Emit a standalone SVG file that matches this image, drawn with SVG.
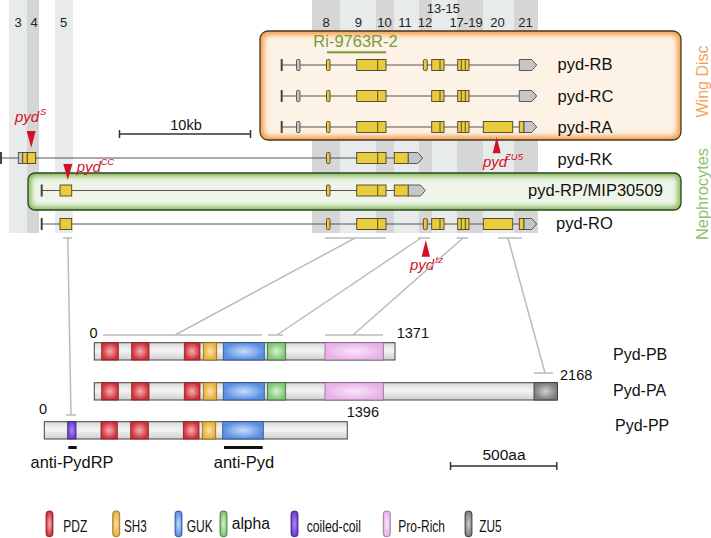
<svg xmlns="http://www.w3.org/2000/svg" width="711" height="538" viewBox="0 0 711 538">
<defs>
<style>
text{font-family:"Liberation Sans",Arial,sans-serif;}
.bl{fill:#e7ebeb}.bd{fill:#d6d6d6}
.col{font-size:13px;fill:#222;text-anchor:middle}
.gl{stroke:#555;stroke-width:1;fill:none}
.ex{fill:#e9cc3c;stroke:#4a4030;stroke-width:0.9}
.eg{fill:#c6c6c6;stroke:#4a4a4a;stroke-width:0.9}
.dv{stroke:#4a4030;stroke-width:0.9}
.tk{fill:#444}
.lab{font-size:16.5px;fill:#111}
.red{fill:#d3102a}
.rt{font-style:italic;font-size:15px;fill:#d3102a}
.sup{font-style:italic;font-size:9.5px;fill:#d3102a}
.con{stroke:#bcbcbc;stroke-width:1.5;fill:none}
.bar{fill:url(#gBar);stroke:#444;stroke-width:1}
.num{font-size:14.5px;fill:#111}
.pl{font-size:16px;fill:#111}
.lg{font-size:16px;fill:#111}
.sc{stroke:#333;stroke-width:1.5;fill:none}
.pdz{fill:url(#gPdz);stroke:#8a1a20;stroke-width:0.8}
.sh3{fill:url(#gSh3);stroke:#8a6a20;stroke-width:0.8}
.guk{fill:url(#gGuk);stroke:#2a4a8a;stroke-width:0.8}
.alp{fill:url(#gAlp);stroke:#3a6a30;stroke-width:0.8}
.cc{fill:url(#gCc);stroke:#3a2070;stroke-width:0.8}
.pro{fill:url(#gPro);stroke:#8a6a8a;stroke-width:0.8}
.zu5{fill:url(#gZu5);stroke:#333;stroke-width:0.8}
</style>
<linearGradient id="gBar" x1="0" y1="0" x2="0" y2="1">
<stop offset="0" stop-color="#d8d8d8"/><stop offset="0.45" stop-color="#f4f4f4"/><stop offset="1" stop-color="#d0d0d0"/>
</linearGradient>
<radialGradient id="gPdz"><stop offset="0" stop-color="#f6b0b4"/><stop offset="1" stop-color="#cc3038"/></radialGradient>
<radialGradient id="gSh3"><stop offset="0" stop-color="#fbe2a8"/><stop offset="1" stop-color="#e8ae3c"/></radialGradient>
<radialGradient id="gGuk"><stop offset="0" stop-color="#c6dcfc"/><stop offset="1" stop-color="#5a8ee2"/></radialGradient>
<radialGradient id="gAlp"><stop offset="0" stop-color="#d8f2d0"/><stop offset="1" stop-color="#80c478"/></radialGradient>
<radialGradient id="gCc"><stop offset="0" stop-color="#a88cf2"/><stop offset="1" stop-color="#6a3cd0"/></radialGradient>
<radialGradient id="gPro"><stop offset="0" stop-color="#fbe6fb"/><stop offset="1" stop-color="#e8b2e8"/></radialGradient>
<radialGradient id="gZu5"><stop offset="0" stop-color="#d0d0d0"/><stop offset="1" stop-color="#7c7c7c"/></radialGradient>
<filter id="soft" x="-5%" y="-20%" width="110%" height="140%"><feGaussianBlur stdDeviation="2.5"/></filter>
</defs>

<g id="bands">
<rect class="bl" x="9" y="0" width="18" height="233"/>
<rect class="bd" x="27" y="0" width="12" height="233"/>
<rect class="bl" x="55" y="0" width="18" height="233"/>
<rect class="bd" x="312" y="0" width="28" height="233"/>
<rect class="bl" x="340" y="0" width="36" height="233"/>
<rect class="bd" x="376" y="0" width="18" height="233"/>
<rect class="bl" x="394" y="0" width="25" height="233"/>
<rect class="bd" x="419" y="0" width="13" height="233"/>
<rect class="bl" x="432" y="0" width="25" height="233"/>
<rect class="bd" x="457" y="0" width="26" height="233"/>
<rect class="bl" x="483" y="0" width="31" height="233"/>
<rect class="bd" x="514" y="0" width="24" height="233"/>
</g>
<g id="column-labels">
<text class="col" x="18" y="27">3</text>
<text class="col" x="34" y="27">4</text>
<text class="col" x="63.5" y="27">5</text>
<text class="col" x="326" y="27">8</text>
<text class="col" x="358.3" y="27">9</text>
<text class="col" x="384.5" y="27">10</text>
<text class="col" x="405" y="27">11</text>
<text class="col" x="425" y="27">12</text>
<text class="col" x="443.3" y="12.7">13-15</text>
<text class="col" x="466" y="27">17-19</text>
<text class="col" x="497.5" y="27">20</text>
<text class="col" x="525.5" y="27">21</text>
</g>

<g id="wing-disc-box">
<rect x="260" y="31" width="421" height="109" rx="8" fill="#f3a24a"/>
<rect x="264" y="35" width="413" height="101" rx="5" fill="#fdf2e6" filter="url(#soft)"/>
<rect x="260" y="31" width="421" height="109" rx="8" fill="none" stroke="#4a3626" stroke-width="1.3"/>
</g>
<g id="nephrocyte-box">
<rect x="28" y="173" width="653" height="37" rx="7" fill="#86bb5c"/>
<rect x="31.5" y="176.5" width="646" height="30" rx="4" fill="#eef5e8" filter="url(#soft)"/>
<rect x="28" y="173" width="653" height="37" rx="7" fill="none" stroke="#2e4620" stroke-width="1.3"/>
</g>

<g id="ri-label">
<text x="355.5" y="47" font-size="16.5" fill="#7a9a3a" text-anchor="middle">Ri-9763R-2</text>
<rect x="327" y="51.3" width="59" height="2" fill="#7a9a3a"/>
</g>

<g id="pyd-RB">
<path class="gl" d="M281.7 65H519.3"/>
<rect class="tk" x="280.7" y="59" width="2" height="12"/>
<rect class="eg" x="296.5" y="59.5" width="3.5" height="11" rx="1"/>
<rect class="ex" x="326.5" y="59.5" width="3.5" height="11" rx="1"/>
<rect class="ex" x="356.7" y="59.5" width="29.3" height="11"/><path class="dv" d="M377.7 59.5V70.5"/>
<rect class="ex" x="423.3" y="59.5" width="4" height="11" rx="1.5"/>
<rect class="ex" x="431.7" y="59.5" width="12.3" height="11"/><path class="dv" d="M440 59.5V70.5"/>
<rect class="ex" x="457.7" y="59.5" width="11.3" height="11"/><path class="dv" d="M461.3 59.5V70.5M465.3 59.5V70.5"/>
<path class="eg" d="M519.3 59.5H531.7L536.7 65L531.7 70.5H519.3Z"/>
<text class="lab" x="557.5" y="70">pyd-RB</text>
</g>
<g id="pyd-RC">
<path class="gl" d="M281.7 96H519.3"/>
<rect class="tk" x="280.7" y="90" width="2" height="12"/>
<rect class="eg" x="296.5" y="90.5" width="3.5" height="11" rx="1"/>
<rect class="ex" x="326.5" y="90.5" width="3.5" height="11" rx="1"/>
<rect class="ex" x="356.7" y="90.5" width="29.3" height="11"/><path class="dv" d="M377.7 90.5V101.5"/>
<rect class="ex" x="431.7" y="90.5" width="12.3" height="11"/><path class="dv" d="M440 90.5V101.5"/>
<rect class="ex" x="457.7" y="90.5" width="11.3" height="11"/><path class="dv" d="M461.3 90.5V101.5M465.3 90.5V101.5"/>
<path class="eg" d="M519.3 90.5H531.7L536.7 96L531.7 101.5H519.3Z"/>
<text class="lab" x="557.5" y="101.7">pyd-RC</text>
</g>
<g id="pyd-RA">
<path class="gl" d="M281.7 127H519.3"/>
<rect class="tk" x="280.7" y="121" width="2" height="12"/>
<rect class="eg" x="296.5" y="121.5" width="3.5" height="11" rx="1"/>
<rect class="ex" x="326.5" y="121.5" width="3.5" height="11" rx="1"/>
<rect class="ex" x="356.7" y="121.5" width="29.3" height="11"/><path class="dv" d="M377.7 121.5V132.5"/>
<rect class="ex" x="431.7" y="121.5" width="12.3" height="11"/><path class="dv" d="M440 121.5V132.5"/>
<rect class="ex" x="457.7" y="121.5" width="11.3" height="11"/><path class="dv" d="M461.3 121.5V132.5M465.3 121.5V132.5"/>
<rect class="ex" x="483.3" y="121.5" width="29.4" height="11"/>
<rect class="ex" x="519.3" y="121.5" width="4.7" height="11"/>
<path class="eg" d="M524 121.5H531.7L536.7 127L531.7 132.5H524Z"/>
<text class="lab" x="557.5" y="132.5">pyd-RA</text>
</g>
<g id="pyd-RK">
<path class="gl" d="M0 158H394.3"/>
<rect class="tk" x="0" y="152" width="2" height="12"/>
<rect class="eg" x="18.3" y="152.5" width="4.4" height="11"/>
<rect class="ex" x="22.7" y="152.5" width="4.6" height="11"/>
<rect class="ex" x="27.3" y="152.5" width="8.4" height="11"/>
<rect class="ex" x="326.5" y="152.5" width="3.5" height="11" rx="1"/>
<rect class="ex" x="356.7" y="152.5" width="29.3" height="11"/><path class="dv" d="M377.7 152.5V163.5"/>
<rect class="ex" x="394.3" y="152.5" width="14" height="11"/>
<path class="eg" d="M408.3 152.5H417.7L422.7 158L417.7 163.5H408.3Z"/>
<text class="lab" x="557.5" y="164.5">pyd-RK</text>
</g>
<g id="pyd-RP">
<path class="gl" d="M41.7 190.5H394.3"/>
<rect class="tk" x="40.7" y="184.5" width="2" height="12"/>
<rect class="ex" x="60" y="185" width="11.7" height="11"/>
<rect class="ex" x="326.5" y="185" width="3.5" height="11" rx="1"/>
<rect class="ex" x="356.7" y="185" width="29.3" height="11"/><path class="dv" d="M377.7 185V196"/>
<rect class="ex" x="394.3" y="185" width="14" height="11"/>
<path class="eg" d="M408.3 185H420.3L425.3 190.5L420.3 196H408.3Z"/>
<text class="lab" x="528" y="196">pyd-RP/MIP30509</text>
</g>
<g id="pyd-RO">
<path class="gl" d="M41.7 224H519.3"/>
<rect class="tk" x="40.7" y="218" width="2" height="12"/>
<rect class="ex" x="60" y="218.5" width="11.7" height="11"/>
<rect class="ex" x="326.5" y="218.5" width="3.5" height="11" rx="1"/>
<rect class="ex" x="356.7" y="218.5" width="29.3" height="11"/><path class="dv" d="M377.7 218.5V229.5"/>
<rect class="ex" x="423.3" y="218.5" width="4" height="11" rx="1.5"/>
<rect class="ex" x="431.7" y="218.5" width="12.3" height="11"/><path class="dv" d="M440 218.5V229.5"/>
<rect class="ex" x="457.7" y="218.5" width="11.3" height="11"/><path class="dv" d="M461.3 218.5V229.5M465.3 218.5V229.5"/>
<rect class="ex" x="483.3" y="218.5" width="29.4" height="11"/>
<rect class="ex" x="519.3" y="218.5" width="4.7" height="11"/>
<path class="eg" d="M524 218.5H531.7L536.7 224L531.7 229.5H524Z"/>
<text class="lab" x="556" y="229.3">pyd-RO</text>
</g>

<g id="tissue-labels">
<text transform="rotate(-90 708 81.5)" x="708" y="81.5" font-size="16" fill="#f0a65a" text-anchor="middle">Wing Disc</text>
<text transform="rotate(-90 708 194)" x="708" y="194" font-size="16.4" fill="#92bf70" text-anchor="middle">Nephrocytes</text>
</g>

<g id="scale-10kb">
<path class="sc" d="M119 134H251M119.5 130V138M250.5 130V138"/>
<text x="186" y="130" font-size="14.5" fill="#111" text-anchor="middle">10kb</text>
</g>

<g id="alleles">
<path class="red" d="M26.7 131H35.7L31.2 147.7Z"/>
<text class="rt" x="15" y="122">pyd</text><text class="sup" x="40" y="114.5" font-style="normal">S</text>
<path class="red" d="M63.3 164H72.3L67.8 180Z"/>
<text class="rt" x="76.7" y="172">pyd</text><text class="sup" x="100.5" y="164.5">CC</text>
<path class="red" d="M496.7 136.7L500.7 153.3H492.7Z"/>
<text class="rt" x="483" y="167">pyd</text><text class="sup" x="505" y="160">ZU5</text>
<path class="red" d="M425.8 240L430 256.7H421.6Z"/>
<text class="rt" x="410" y="270">pyd</text><text class="sup" x="435.5" y="263" font-size="6">tz</text>
</g>

<g id="connectors">
<path class="con" d="M63 238H72M67.8 238L71 415M66 415H76"/>
<path class="con" d="M325 238H386M355 238L175 335M103 335H262"/>
<path class="con" d="M418 238H430M421 238L277 335M268 335H283"/>
<path class="con" d="M456.7 238H468.3M463 238L353 335M325 335H383"/>
<path class="con" d="M498 238H522M508 238L545 373M534 373H553"/>
</g>

<g id="Pyd-PB">
<rect class="bar" x="94.3" y="342.7" width="300.7" height="17.3"/>
<rect class="pdz" x="101.7" y="342.7" width="16.6" height="17.3"/>
<rect class="pdz" x="131.7" y="342.7" width="17.3" height="17.3"/>
<rect class="pdz" x="184.3" y="342.7" width="15.7" height="17.3"/>
<rect class="sh3" x="203.3" y="342.7" width="13.4" height="17.3"/>
<rect class="guk" x="223.3" y="342.7" width="41" height="17.3"/>
<rect class="alp" x="267.3" y="342.7" width="18.4" height="17.3"/>
<rect class="pro" x="325" y="342.7" width="58.3" height="17.3"/>
<text class="num" x="89.5" y="338">0</text>
<text class="num" x="396.7" y="338">1371</text>
<text class="pl" x="613" y="359.5">Pyd-PB</text>
</g>
<g id="Pyd-PA">
<rect class="bar" x="94.3" y="382.7" width="463" height="17.3"/>
<rect class="pdz" x="101.7" y="382.7" width="16.6" height="17.3"/>
<rect class="pdz" x="131.7" y="382.7" width="17.3" height="17.3"/>
<rect class="pdz" x="184.3" y="382.7" width="15.7" height="17.3"/>
<rect class="sh3" x="203.3" y="382.7" width="13.4" height="17.3"/>
<rect class="guk" x="223.3" y="382.7" width="41" height="17.3"/>
<rect class="alp" x="267.3" y="382.7" width="18.4" height="17.3"/>
<rect class="pro" x="325" y="382.7" width="58.3" height="17.3"/>
<rect class="zu5" x="534" y="382.7" width="23.3" height="17.3"/>
<text class="num" x="560" y="380">2168</text>
<text class="pl" x="613" y="395.5">Pyd-PA</text>
</g>
<g id="Pyd-PP">
<rect class="bar" x="44.3" y="421.7" width="303" height="17.3"/>
<rect class="cc" x="67.7" y="421.7" width="8.3" height="17.3"/>
<rect class="pdz" x="101" y="421.7" width="16.3" height="17.3"/>
<rect class="pdz" x="130.7" y="421.7" width="17.6" height="17.3"/>
<rect class="pdz" x="183.3" y="421.7" width="15.7" height="17.3"/>
<rect class="sh3" x="202.3" y="421.7" width="13.4" height="17.3"/>
<rect class="guk" x="222.7" y="421.7" width="40.6" height="17.3"/>
<text class="num" x="39" y="414">0</text>
<text class="num" x="346.7" y="416.7">1396</text>
<text class="pl" x="615" y="430.5">Pyd-PP</text>
</g>

<g id="antibodies">
<rect x="68.3" y="446" width="8.4" height="3" fill="#111"/>
<rect x="224" y="446" width="38.7" height="3" fill="#111"/>
<text x="72" y="468" font-size="16.4" fill="#111" text-anchor="middle">anti-PydRP</text>
<text x="244" y="468" font-size="16.5" fill="#111" text-anchor="middle">anti-Pyd</text>
</g>

<g id="scale-500aa">
<path class="sc" d="M450 466H557.3M450.5 462V470M556.8 462V470"/>
<text x="504" y="460" font-size="15.5" fill="#111" text-anchor="middle">500aa</text>
</g>

<g id="legend">
<rect class="pdz" x="46" y="511" width="7" height="25.7" rx="3"/>
<text class="lg" x="63.3" y="531.5" textLength="24" lengthAdjust="spacingAndGlyphs">PDZ</text>
<rect class="sh3" x="112.7" y="511" width="7" height="25.7" rx="3"/>
<text class="lg" x="124" y="531.5" textLength="22.7" lengthAdjust="spacingAndGlyphs">SH3</text>
<rect class="guk" x="175" y="511" width="7" height="25.7" rx="3"/>
<text class="lg" x="186.7" y="531.5" textLength="26" lengthAdjust="spacingAndGlyphs">GUK</text>
<rect class="alp" x="220" y="511" width="7" height="25.7" rx="3"/>
<text class="lg" x="231.7" y="529" textLength="38.3" lengthAdjust="spacingAndGlyphs">alpha</text>
<rect class="cc" x="291" y="511" width="7" height="25.7" rx="3"/>
<text class="lg" x="306.7" y="531.5" textLength="54.3" lengthAdjust="spacingAndGlyphs">coiled-coil</text>
<rect class="pro" x="383.3" y="511" width="7" height="25.7" rx="3"/>
<text class="lg" x="398.3" y="531.5" textLength="46.7" lengthAdjust="spacingAndGlyphs">Pro-Rich</text>
<rect class="zu5" x="465" y="511" width="7" height="25.7" rx="3"/>
<text class="lg" x="479.3" y="531.5" textLength="22.3" lengthAdjust="spacingAndGlyphs">ZU5</text>
</g>
</svg>
